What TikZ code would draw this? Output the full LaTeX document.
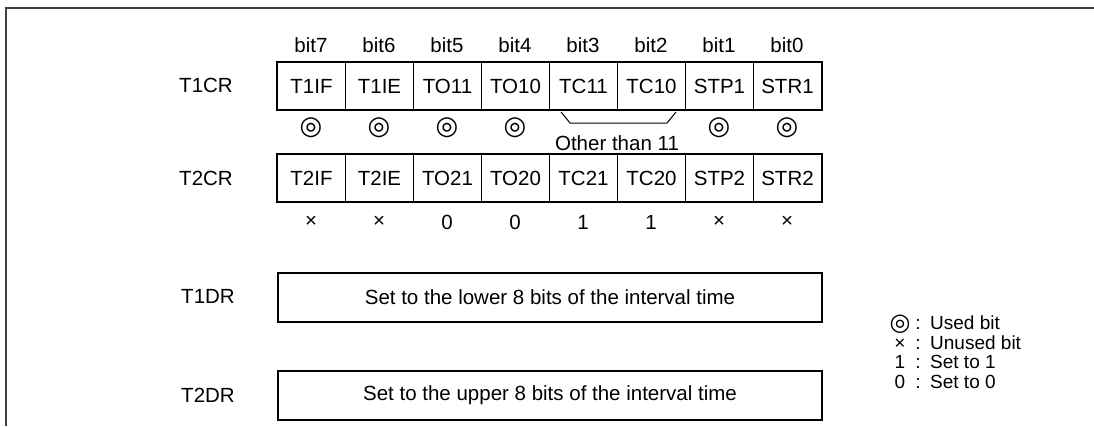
\documentclass[tikz,border=0pt]{standalone}
\usepackage{fontspec}
\setmainfont{Liberation Sans}
\newfontfamily\symfont{DejaVu Sans}
\usetikzlibrary{positioning}

\begin{document}
\begin{tikzpicture}[x=1pt, y=-1pt, font=\fontsize{20.5}{24}\selectfont,
    cell/.style={draw, line width=1pt, minimum width=68pt, minimum height=47pt,
      inner sep=0pt, anchor=north west},
    regbox/.style={draw, line width=2pt, minimum width=544pt, minimum height=49pt,
      inner sep=0pt, anchor=north west},
    usedmark/.style={font=\symfont\fontsize{26}{28}\selectfont, inner sep=0pt},
    legend/.style={font=\fontsize{19}{21}\selectfont, inner sep=0pt,
      text height=13pt, text depth=3.5pt}]
  \useasboundingbox (0,0) rectangle (1094,426);

  % frame
  \draw[line width=1.8pt, black!75] (1094,8) -- (6,8) -- (6,426);

  % T1CR
  \node (t1cr) at (206,85) {T1CR};
  \foreach \name [count=\i from 0, evaluate=\i as \b using int(7-\i)]
      in {T1IF,T1IE,TO11,TO10,TC11,TC10,STP1,STR1} {
    \node[cell] (a\i) at (277+68*\i,62) {\name};
    \node (bit\i) at (311+68*\i,45) {bit\b};
  }
  \draw[line width=2pt] (a0.north west) rectangle (a7.south east);

  \foreach \i in {0,1,2,3,6,7}
    \node[usedmark] (u\i) at (311+68*\i,128) {◎};
  \draw[line width=1pt] (561,112) -- (570,123) -- (667,123) -- (676,112);
  \node (other) at (617,143) {Other than 11};

  % T2CR
  \node (t2cr) at (206,178) {T2CR};
  \foreach \name [count=\i from 0] in {T2IF,T2IE,TO21,TO20,TC21,TC20,STP2,STR2}
    \node[cell] (c\i) at (277+68*\i,154) {\name};
  \draw[line width=2pt] (c0.north west) rectangle (c7.south east);

  \foreach \v [count=\i from 0] in {×,×,0,0,1,1,×,×}
    \node (v\i) at (311+68*\i,222) {\v};

  % T1DR, T2DR
  \node (t1dr) at (208,296) {T1DR};
  \node[regbox] (d1) at (277,272) {Set to the lower 8 bits of the interval time};
  \node (t2dr) at (208,395) {T2DR};
  \node[regbox] (d2) at (277,370) {Set to the upper 8 bits of the interval time};

  % legend
  \node[usedmark, font=\symfont\fontsize{24}{26}\selectfont,
    text height=12pt, text depth=2pt] (k1) at (900,325) {◎};
  \node[legend] (k2) at (900,344.5) {×};
  \node[legend] (k3) at (900,364) {1};
  \node[legend] (k4) at (900,383.5) {0};
  \foreach \t [count=\i] in {Used bit,Unused bit,Set to 1,Set to 0} {
    \node[legend] (col\i) at (918,325+19.5*\i-19.5) {:};
    \node[legend, anchor=west] (txt\i) at (930,325+19.5*\i-19.5) {\t};
  }
\end{tikzpicture}
\end{document}
